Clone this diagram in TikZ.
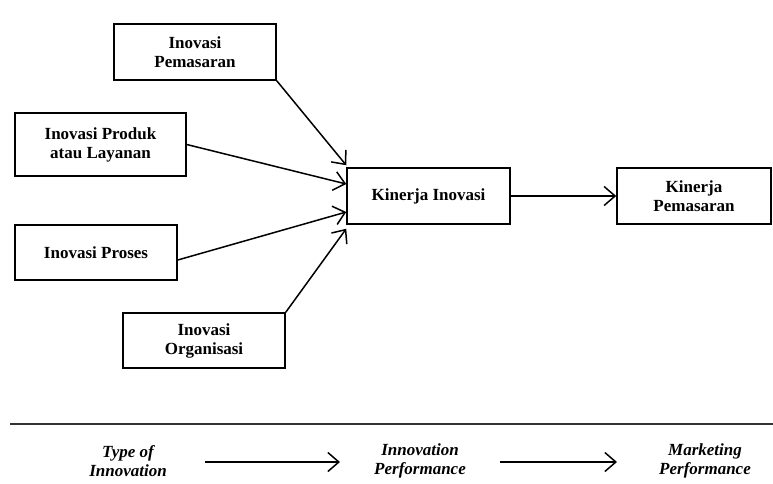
\documentclass[tikz,border=0pt]{standalone}
\usepackage{fontspec}
\setmainfont{Liberation Serif}
\usetikzlibrary{arrows.meta,calc}

\begin{document}
\begin{tikzpicture}[x=1pt,y=-1pt,
    box/.style={draw,line width=1.5pt,inner sep=0pt,align=center,
      font=\bfseries\fontsize{17}{19}\selectfont},
    lbl/.style={align=center,font=\bfseries\itshape\fontsize{17}{18.5}\selectfont},
    conn/.style={line width=1.5pt,-{Straight Barb[length=11pt,width=19pt,line width=1.5pt]}}]
\useasboundingbox (0,0) rectangle (773,483);

% Types of innovation
\node[box,minimum width=162pt,minimum height=56pt] (pemasaran) at (195,52) {Inovasi\\Pemasaran};
\node[box,minimum width=171pt,minimum height=63pt] (produk) at (100.5,144.5) {Inovasi Produk\\atau Layanan};
\node[box,minimum width=162pt,minimum height=55pt] (proses) at (96,252.5) {Inovasi Proses};
\node[box,minimum width=162pt,minimum height=55pt] (organisasi) at (204,340.5) {Inovasi\\Organisasi};

% Performance
\node[box,minimum width=163pt,minimum height=56pt] (kinovasi) at (428.5,196) {Kinerja Inovasi};
\node[box,minimum width=154pt,minimum height=56pt] (kpemasaran) at (694,196) {Kinerja\\Pemasaran};

% Arrow ends on the left side of Kinerja Inovasi
\coordinate (in1) at ($(kinovasi.north west)+(0,-2)$);
\coordinate (in2) at ($(kinovasi.west)+(0,-12)$);
\coordinate (in3) at ($(kinovasi.west)+(0,16)$);
\coordinate (in4) at ($(kinovasi.south west)+(0,4)$);

\draw[conn] (pemasaran.south east) -- (in1);
\draw[conn] (produk.east) -- (in2);
\draw[conn] ($(proses.east)+(0,7.5)$) -- (in3);
\draw[conn] (organisasi.north east) -- (in4);
\draw[conn] (kinovasi.east) -- (kpemasaran.west);

% Separator
\coordinate (sepl) at (10,424);
\coordinate (sepr) at (773,424);
\draw[line width=2.4pt,black!80] (sepl) -- (sepr);

% Summary row
\node[lbl] (type) at (128,461) {Type of\\Innovation};
\node[lbl] (iperf) at (420,461) {Innovation\\Performance};
\node[lbl] (mperf) at (705,461) {Marketing\\Performance};
\coordinate (a1s) at (205,462);
\coordinate (a1e) at (340,462);
\coordinate (a2s) at (500,462);
\coordinate (a2e) at (617,462);
\draw[conn] (a1s) -- (a1e);
\draw[conn] (a2s) -- (a2e);
\end{tikzpicture}
\end{document}
